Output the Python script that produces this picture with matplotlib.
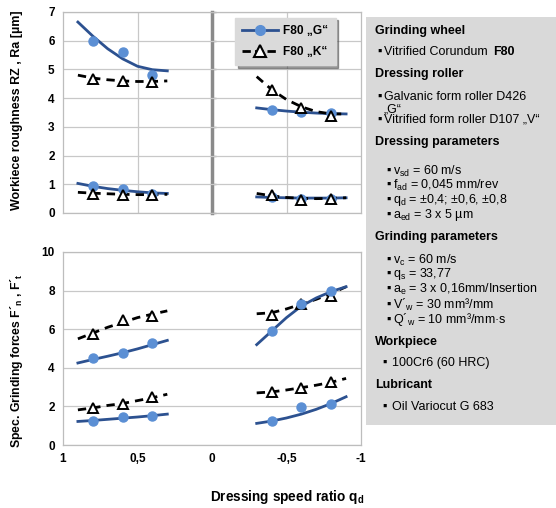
import matplotlib.pyplot as plt
from matplotlib.lines import Line2D
from matplotlib.patches import Rectangle

plt.rcParams['font.family'] = ['Liberation Sans', 'DejaVu Sans']
plt.rcParams['mathtext.fontset'] = 'custom'
plt.rcParams['mathtext.rm'] = 'Liberation Sans'
plt.rcParams['mathtext.it'] = 'Liberation Sans:italic'
plt.rcParams['mathtext.bf'] = 'Liberation Sans:bold'

# dressing speed ratio qd of the measured points
qd_pos = [0.8, 0.6, 0.4]
qd_neg = [-0.4, -0.6, -0.8]
# qd values where the trend lines were read
trend_pos = [0.9, 0.8, 0.7, 0.6, 0.5, 0.4, 0.3]
trend_neg = [-0.3, -0.4, -0.5, -0.6, -0.7, -0.8, -0.9]

# workpiece roughness Rz and Ra [um]
rz_g_pos = [5.99, 5.6, 4.79]
rz_g_neg = [3.57, 3.51, 3.48]
rz_k_pos = [4.67, 4.61, 4.57]
rz_k_neg = [4.28, 3.66, 3.37]
ra_g_pos = [0.93, 0.82, 0.65]
ra_g_neg = [0.56, 0.5, 0.5]
ra_k_pos = [0.66, 0.62, 0.64]
ra_k_neg = [0.64, 0.47, 0.49]

rz_g_pos_trend = [6.65, 6.16, 5.72, 5.37, 5.11, 4.99, 4.95]
rz_g_neg_trend = [3.66, 3.6, 3.55, 3.51, 3.48, 3.46, 3.45]
rz_k_pos_trend = [4.8, 4.7, 4.64, 4.6, 4.58, 4.58, 4.6]
rz_k_neg_trend = [4.75, 4.3, 3.95, 3.7, 3.53, 3.45, 3.45]
ra_g_pos_trend = [1.03, 0.93, 0.85, 0.79, 0.74, 0.7, 0.68]
ra_g_neg_trend = [0.56, 0.54, 0.53, 0.52, 0.52, 0.52, 0.53]
ra_k_pos_trend = [0.72, 0.69, 0.67, 0.65, 0.64, 0.64, 0.65]
ra_k_neg_trend = [0.68, 0.6, 0.54, 0.51, 0.5, 0.51, 0.53]

# specific grinding forces F'n and F't
fn_g_pos = [4.5, 4.79, 5.28]
fn_g_neg = [5.9, 7.3, 7.98]
fn_k_pos = [5.76, 6.49, 6.7]
fn_k_neg = [6.75, 7.3, 7.72]
ft_g_pos = [1.25, 1.44, 1.52]
ft_g_neg = [1.25, 1.95, 2.13]
ft_k_pos = [1.9, 2.11, 2.5]
ft_k_neg = [2.73, 2.94, 3.25]

fn_g_pos_trend = [4.25, 4.43, 4.6, 4.78, 4.98, 5.2, 5.42]
fn_g_neg_trend = [5.2, 5.9, 6.6, 7.2, 7.62, 7.95, 8.2]
fn_k_pos_trend = [5.5, 5.8, 6.1, 6.35, 6.6, 6.78, 6.95]
fn_k_neg_trend = [6.8, 6.85, 7.05, 7.3, 7.55, 7.85, 8.2]
ft_g_pos_trend = [1.22, 1.27, 1.33, 1.39, 1.45, 1.52, 1.6]
ft_g_neg_trend = [1.12, 1.24, 1.4, 1.6, 1.85, 2.15, 2.5]
ft_k_pos_trend = [1.82, 1.92, 2.05, 2.15, 2.3, 2.45, 2.63]
ft_k_neg_trend = [2.7, 2.75, 2.85, 2.97, 3.1, 3.25, 3.45]

xtick_vals = [1, 0.5, 0, -0.5, -1]
xtick_labels = ['1', '0,5', '0', '-0,5', '-1']
legend_labels = ['F80 \u201eG\u201c', 'F80 \u201eK\u201c']

LINE_G = '#2c5190'
MARK_G = '#5b8fd4'
GRID = '#c8c8c8'
W, H = 556, 508


def px(x, y):
    return x / W, 1 - y / H


def draw_g(ax, x, y, tx, ty):
    ax.plot(tx, ty, color=LINE_G, lw=2, zorder=3)
    ax.plot(x, y, 'o', color=MARK_G, ms=6.5, zorder=4)


def draw_k(ax, x, y, tx, ty):
    ax.plot(tx, ty, color='black', lw=2, ls=(0, (3, 2.2)), zorder=3)
    ax.plot(x, y, '^', mfc='white', mec='black', mew=1.4, ms=7.5, zorder=4)


def style(ax, ymax, ystep):
    ax.set_xlim(1, -1)
    ax.set_ylim(0, ymax)
    ax.set_yticks(range(0, ymax + 1, ystep))
    ax.set_xticks([0.5, -0.5], minor=True)
    ax.grid(axis='y', which='major', color=GRID, lw=0.9)
    ax.grid(axis='x', which='minor', color=GRID, lw=0.9)
    ax.tick_params(which='both', length=0, labelsize=8.5, pad=6)
    for s in ax.spines.values():
        s.set_color('#bdbdbd')
        s.set_linewidth(0.9)
    for lab in ax.get_yticklabels() + ax.get_xticklabels():
        lab.set_fontweight('bold')
    ax.set_axisbelow(True)


fig = plt.figure(figsize=(W / 100, H / 100), dpi=100)
ax1 = fig.add_axes([63 / W, 1 - 213 / H, 298 / W, 201 / H])
ax2 = fig.add_axes([63 / W, 1 - 445 / H, 298 / W, 193 / H])

# roughness panel
draw_g(ax1, qd_pos, rz_g_pos, trend_pos, rz_g_pos_trend)
draw_g(ax1, qd_neg, rz_g_neg, trend_neg, rz_g_neg_trend)
draw_k(ax1, qd_pos, rz_k_pos, trend_pos, rz_k_pos_trend)
draw_k(ax1, qd_neg, rz_k_neg, trend_neg, rz_k_neg_trend)
draw_g(ax1, qd_pos, ra_g_pos, trend_pos, ra_g_pos_trend)
draw_g(ax1, qd_neg, ra_g_neg, trend_neg, ra_g_neg_trend)
draw_k(ax1, qd_pos, ra_k_pos, trend_pos, ra_k_pos_trend)
draw_k(ax1, qd_neg, ra_k_neg, trend_neg, ra_k_neg_trend)
ax1.set_xticks([])
style(ax1, 7, 1)

# divider at qd = 0
sec = ax1.secondary_yaxis(0.5)
sec.set_yticks(range(0, 8))
sec.tick_params(length=3, width=1, color='#8a8a8a', labelright=False, labelleft=False)
for s in sec.spines.values():
    s.set_color('#8a8a8a')
    s.set_linewidth(2.5)

handles = [
    Line2D([], [], color=LINE_G, lw=2, marker='o', mfc=MARK_G, mec=MARK_G, ms=7),
    Line2D([], [], color='black', lw=2, ls=(0, (3, 1.5)), marker='^', mfc='white',
           mec='black', mew=1.5, ms=8),
]
leg = ax1.legend(handles, legend_labels, loc='upper left', bbox_to_anchor=(0.565, 0.99),
                 frameon=True, facecolor='#dadada', edgecolor='#dadada', framealpha=1,
                 shadow=True, fancybox=False, handlelength=3.0, handletextpad=0.45,
                 borderpad=0.6, borderaxespad=0.3, labelspacing=0.75,
                 prop={'weight': 'bold', 'size': 8.6})
leg.set_zorder(10)

# force panel
draw_k(ax2, qd_pos, fn_k_pos, trend_pos, fn_k_pos_trend)
draw_k(ax2, qd_neg, fn_k_neg, trend_neg, fn_k_neg_trend)
draw_g(ax2, qd_pos, fn_g_pos, trend_pos, fn_g_pos_trend)
draw_g(ax2, qd_neg, fn_g_neg, trend_neg, fn_g_neg_trend)
draw_k(ax2, qd_pos, ft_k_pos, trend_pos, ft_k_pos_trend)
draw_k(ax2, qd_neg, ft_k_neg, trend_neg, ft_k_neg_trend)
draw_g(ax2, qd_pos, ft_g_pos, trend_pos, ft_g_pos_trend)
draw_g(ax2, qd_neg, ft_g_neg, trend_neg, ft_g_neg_trend)
ax2.set_xticks(xtick_vals, xtick_labels)
style(ax2, 10, 2)

fig.text(*px(17, 110), 'Workiece roughness RZ , Ra [\u00b5m]', rotation=90,
         ha='center', va='center', fontsize=9, fontweight='bold')
fig.text(*px(17, 361), 'Spec. Grinding forces F\u00b4$_\\mathbf{n}$ , F\u00b4$_\\mathbf{t}$',
         rotation=90, ha='center', va='center', fontsize=8.8, fontweight='bold')
fig.text(*px(287, 497), r'Dressing speed ratio q$_\mathbf{d}$', ha='center', va='center',
         fontsize=9.8, fontweight='bold')

# info box
fig.add_artist(Rectangle(px(366, 425), 1 - 366 / W, (425 - 17) / H,
                         transform=fig.transFigure, facecolor='#d9d9d9',
                         edgecolor='none', zorder=0))

BUL = '\u25aa'
info = [
    (375, 31, 'Grinding wheel', 'bold'),
    (377, 52, BUL, 'normal'),
    (384, 52, 'Vitrified Corundum', 'normal'),
    (493, 52, 'F80', 'bold'),
    (375, 74, 'Dressing roller', 'bold'),
    (377, 97, BUL, 'normal'),
    (384, 97, 'Galvanic form roller D426', 'normal'),
    (384, 109, '\u201eG\u201c', 'normal'),
    (377, 120, BUL, 'normal'),
    (384, 120, 'Vitrified form roller D107 \u201eV\u201c', 'normal'),
    (375, 142, 'Dressing parameters', 'bold'),
    (386, 171, BUL, 'normal'),
    (393, 171, r'v$_\mathrm{sd}$ = 60 m/s', 'normal'),
    (386, 185, BUL, 'normal'),
    (393, 185, r'f$_\mathrm{ad}$ = 0,045 mm/rev', 'normal'),
    (386, 200, BUL, 'normal'),
    (393, 200, 'q$_\\mathrm{d}$ = \u00b10,4; \u00b10,6, \u00b10,8', 'normal'),
    (386, 215, BUL, 'normal'),
    (393, 215, 'a$_\\mathrm{ed}$ = 3 x 5 \u00b5m', 'normal'),
    (375, 237, 'Grinding parameters', 'bold'),
    (386, 260, BUL, 'normal'),
    (393, 260, r'v$_\mathrm{c}$ = 60 m/s', 'normal'),
    (386, 274, BUL, 'normal'),
    (393, 274, r'q$_\mathrm{s}$ = 33,77', 'normal'),
    (386, 289, BUL, 'normal'),
    (393, 289, r'a$_\mathrm{e}$ = 3 x 0,16mm/Insertion', 'normal'),
    (386, 305, BUL, 'normal'),
    (393, 305, 'V\u00b4$_\\mathrm{w}$ = 30 mm\u00b3/mm', 'normal'),
    (386, 320, BUL, 'normal'),
    (393, 320, 'Q\u00b4$_\\mathrm{w}$ = 10 mm\u00b3/mm\u00b7s', 'normal'),
    (375, 342, 'Workpiece', 'bold'),
    (382, 363, BUL, 'normal'),
    (392, 363, '100Cr6 (60 HRC)', 'normal'),
    (375, 385, 'Lubricant', 'bold'),
    (382, 407, BUL, 'normal'),
    (392, 407, 'Oil Variocut G 683', 'normal'),
]
for x, y, s, w in info:
    fig.text(*px(x, y), s, ha='left', va='center', fontsize=9, fontweight=w)

fig.savefig('out.png', dpi=100)
